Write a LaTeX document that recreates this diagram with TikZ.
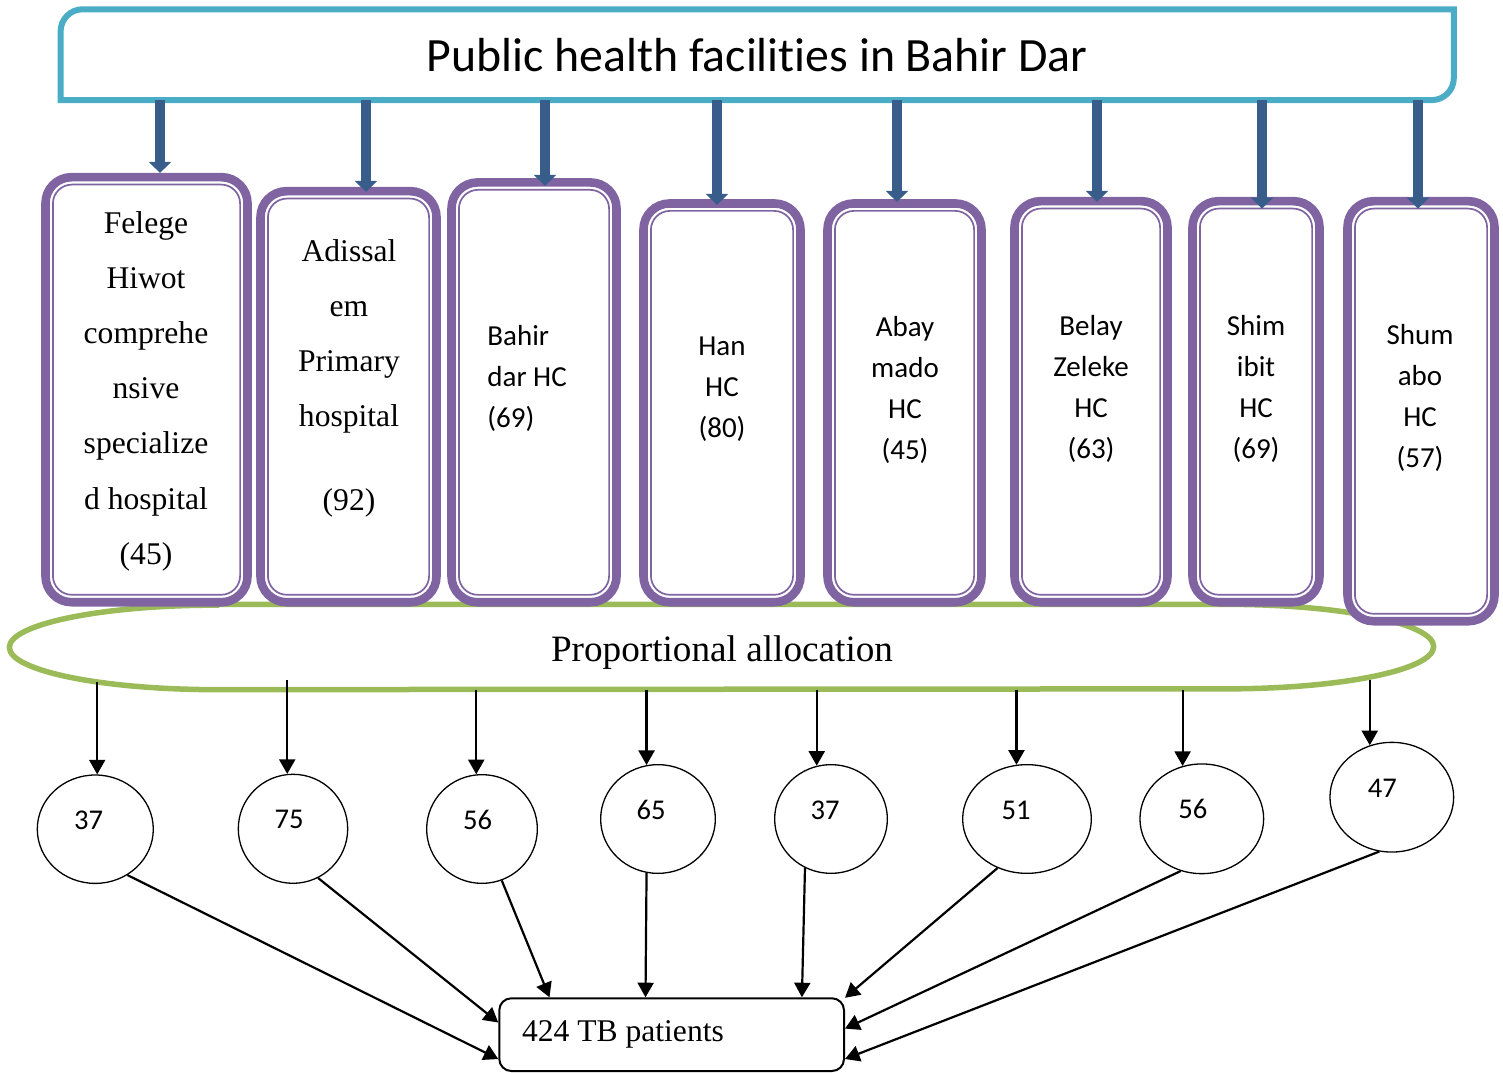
\documentclass[tikz,border=0pt]{standalone}
\usepackage{fontspec}
\setmainfont{Liberation Serif}
\newfontfamily\calibri{Carlito}[Ligatures=NoCommon]
\usetikzlibrary{calc}
\usetikzlibrary{positioning}
\usetikzlibrary{shapes.geometric}
\usetikzlibrary{arrows.meta}

\definecolor{titleblue}{HTML}{4BACC6}
\definecolor{boxpurple}{HTML}{8064A2}
\definecolor{allocgreen}{HTML}{9BBB59}
\definecolor{feedblue}{HTML}{385D8A}

\begin{document}
\begin{tikzpicture}[x=0.5pt, y=0.5pt,
    titleline/.style={draw=titleblue, line width=3pt},
    facility/.style={draw=boxpurple, line width=4.3pt, rounded corners=13pt, fill=white, inner sep=0pt},
    facilityin/.style={draw=boxpurple, line width=0.85pt, rounded corners=9.5pt, inner sep=0pt},
    serifname/.style={align=center, inner sep=0pt, font=\fontsize{15.8}{27.6}\selectfont},
    sansname/.style={align=center, inner sep=0pt, font=\calibri\fontsize{14.5}{20.5}\selectfont},
    feed/.style={draw=feedblue, line width=4.7pt, -{Triangle[width=11pt, length=5.5pt]}},
    allocline/.style={draw=allocgreen, line width=2.75pt, fill=white},
    share/.style={draw, line width=1.1pt, -{Triangle[width=8pt, length=7.3pt]}},
    sample/.style={ellipse, draw, line width=0.65pt, inner sep=0pt, text height=8pt, text depth=8pt, font=\calibri\fontsize{14.3}{17}\selectfont},
  ]
  \useasboundingbox (0,0) rectangle (1503,1072);

  \node[minimum width=696.2pt, minimum height=45pt, inner sep=0pt, font=\calibri\fontsize{23.9}{28}\selectfont] (title) at (757.2,1017.3) {Public health facilities in Bahir Dar};
  \draw[titleline] (title.south west) -- ([yshift=-11pt]title.north west) arc[start angle=180, end angle=90, radius=11pt] -- (title.north east) -- ([yshift=11pt]title.south east) arc[start angle=0, end angle=-90, radius=11pt] -- cycle;

  \node[minimum width=711.75pt, minimum height=42.25pt, inner sep=0pt] (alloc) at (721.5,425) {};
  \draw[allocline] ([xshift=103.5pt]alloc.north west) -- ([xshift=-103.5pt]alloc.north east) arc[start angle=90, end angle=-90, x radius=103.5pt, y radius=21.125pt] -- ([xshift=103.5pt]alloc.south west) arc[start angle=270, end angle=90, x radius=103.5pt, y radius=21.125pt] -- cycle;
  \node[font=\fontsize{18.6}{22}\selectfont, anchor=base, inner sep=0pt] (alloctxt) at (722,410.5) {Proportional allocation};

  \foreach \i/\x/\y/\w/\h in {1/146.5/682.3/101/212.5, 2/348.5/675.3/88/205.5, 3/534/679.65/82.5/209.9, 4/722/669.15/78.5/199.35, 5/904.5/669.15/77/199.35, 6/1091/670.3/76.5/200.5, 7/1256/670.3/63.5/200.5, 8/1421/660.8/73.5/210}{
    \node[facility, minimum width=\w pt, minimum height=\h pt] (f\i) at (\x,\y) {};
    \node[facilityin, minimum width={(\w-7.4)*1pt}, minimum height={(\h-7.4)*1pt}] (fin\i) at (f\i.center) {};
  }

  \node[serifname] (t1) at (146,680.8) {Felege\\Hiwot\\comprehe\\nsive\\specialize\\d hospital\\(45)};
  \node[serifname] (t2) at (349,693.8) {Adissal\\em\\Primary\\hospital\\[14pt](92)};
  \node[sansname, align=left, anchor=west] (t3) at (487,693.5) {Bahir\\dar HC\\(69)};
  \node[sansname] (t4) at (722,682.5) {Han\\HC\\(80)};
  \node[sansname] (t5) at (905,682.5) {Abay\\mado\\HC\\(45)};
  \node[sansname] (t6) at (1091,683.5) {Belay\\Zeleke\\HC\\(63)};
  \node[sansname] (t7) at (1256,683.5) {Shim\\ibit\\HC\\(69)};
  \node[sansname] (t8) at (1420,674.5) {Shum\\abo\\HC\\(57)};

  \foreach \i/\d/\e in {1/13.5/0, 2/17.5/5, 3/11/7.7, 4/-5/5.7, 5/-7.5/2.7, 6/6/5, 7/6/11.7, 8/-3/11.7}{
    \draw[feed] ($(title.south -| f\i.north)+(\d,0)$) -- ($(f\i.north)+(\d,-\e)$);
  }

  \foreach \i/\x/\y/\w/\h/\n/\k in {1/95.3/242.8/58/54.2/37/6.6, 2/293/243.2/54.7/54.5/75/4, 3/482/243/55.35/54.35/56/4.5, 4/658/253/57.35/54.35/65/7, 5/831/253/56.35/54.35/37/6, 6/1027/253/64.35/54.35/51/11, 7/1201.8/253.2/61.85/54.85/56/9, 8/1391.8/274.8/61.85/54.85/47/9.5}{
    \node[sample, minimum width=\w pt, minimum height=\h pt] (c\i) at (\x,\y) {\n\hspace*{\k pt}};
  }

  \foreach \i/\a/\s in {1/88/7.25, 2/96/9.25, 3/96/0, 4/102/0, 5/105/0, 6/101/0, 7/110/0, 8/113/9.25}{
    \draw[share] ($(alloc.south -| c\i.\a)+(0,\s)$) -- (c\i.\a);
  }

  \node[draw, line width=1pt, rounded corners=6pt, text width=149.65pt, inner xsep=11.35pt, inner ysep=0pt, minimum height=36.35pt, align=flush left, font=\fontsize{15.8}{19}\selectfont] (tb) at (671.65,37.35) {424 TB patients};

  \foreach \i/\a/\b in {1/-55/188.4, 2/-63/176.8, 3/-69/163.4, 4/-102/125.2, 5/-118/16.2, 6/-121/12.7, 7/-112/2.5, 8/-103/-8.4}{
    \draw[share] (c\i.\a) -- (tb.\b);
  }
\end{tikzpicture}
\end{document}
